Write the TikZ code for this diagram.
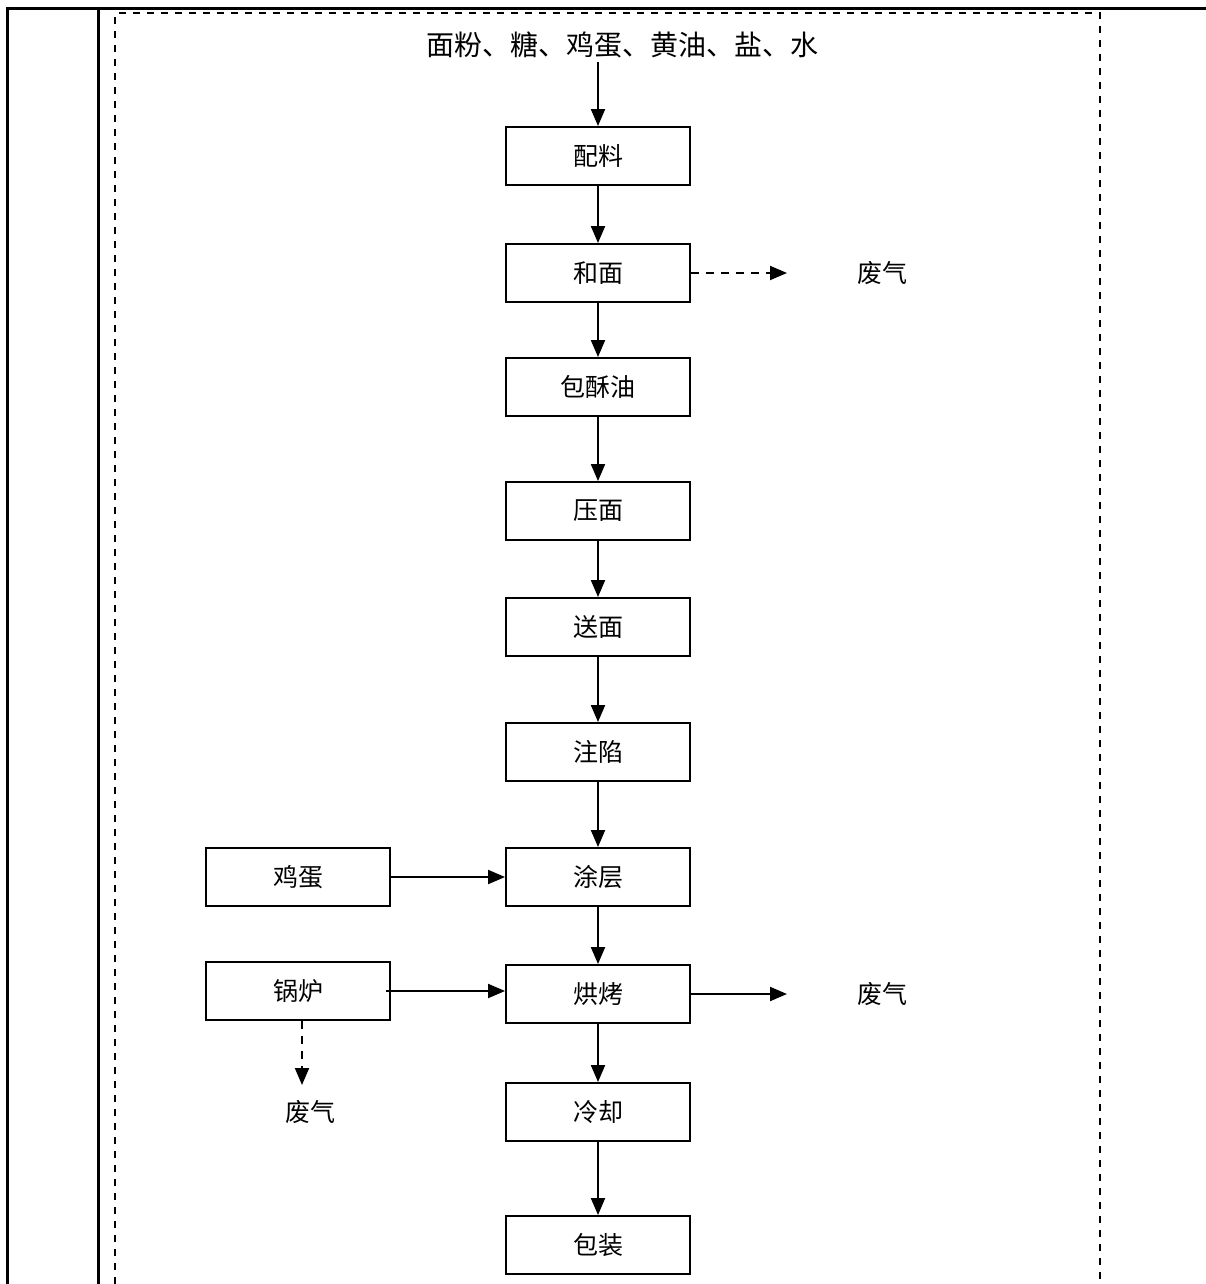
\documentclass[tikz,border=0pt]{standalone}
\usepackage{fontspec}
\setmainfont{Noto Sans CJK SC}
\usetikzlibrary{arrows.meta}
\begin{document}
\begin{tikzpicture}[x=1pt,y=-1pt,
  proc/.style={draw,line width=1.9pt,minimum width=184pt,minimum height=58pt,inner sep=0pt,font=\fontsize{25}{25}\selectfont},
  lbl/.style={inner sep=0pt,font=\fontsize{25}{25}\selectfont},
  arr/.style={line width=2pt,-{Triangle[length=17pt,width=14pt]}},
  darr/.style={arr,dash pattern=on 8pt off 7pt},
  frame/.style={line width=3pt},
  dframe/.style={line width=2pt,dash pattern=on 7pt off 7pt}]
\useasboundingbox (0,0) rectangle (1206,1284);
\draw[frame] (7,1284) -- (7,8.5) -- (1206,8.5);
\draw[frame] (98,8.5) -- (98,1284);
\draw[dframe] (115,1284) -- (115,13.5) -- (1100,13.5) -- (1100,1284);
\node[lbl,font=\fontsize{28}{28}\selectfont] (src) at (622,45) {面粉、糖、鸡蛋、黄油、盐、水};
\coordinate (srcb) at (598,62);
\node[proc] (p1) at (598,156) {配料};
\node[proc] (p2) at (598,273) {和面};
\node[proc] (p3) at (598,387) {包酥油};
\node[proc] (p4) at (598,511) {压面};
\node[proc] (p5) at (598,627) {送面};
\node[proc] (p6) at (598,752) {注陷};
\node[proc] (p7) at (598,877) {涂层};
\node[proc] (p8) at (598,994) {烘烤};
\node[proc] (p9) at (598,1112) {冷却};
\node[proc] (p10) at (598,1245) {包装};
\node[proc] (egg) at (298,877) {鸡蛋};
\node[proc] (boil) at (298,991) {锅炉};
\node[lbl] (w1) at (882,273) {废气};
\node[lbl] (w2) at (882,994) {废气};
\node[lbl] (w3) at (310,1112) {废气};
\draw[arr] (srcb) -- (p1.north);
\draw[arr] (p1) -- (p2);
\draw[arr] (p2) -- (p3);
\draw[arr] (p3) -- (p4);
\draw[arr] (p4) -- (p5);
\draw[arr] (p5) -- (p6);
\draw[arr] (p6) -- (p7);
\draw[arr] (p7) -- (p8);
\draw[arr] (p8) -- (p9);
\draw[arr] (p9) -- (p10);
\draw[arr] (egg) -- (p7);
\draw[arr] ([xshift=-5pt]boil.east) -- (p8.west |- boil.east);
\coordinate (w1a) at (787,273);
\coordinate (w2a) at (787,994);
\coordinate (w3a) at (302,1085);
\draw[darr] (p2.east) -- (w1a);
\draw[arr] (p8.east) -- (w2a);
\draw[darr] (boil.south -| w3a) -- (w3a);
\end{tikzpicture}
\end{document}
